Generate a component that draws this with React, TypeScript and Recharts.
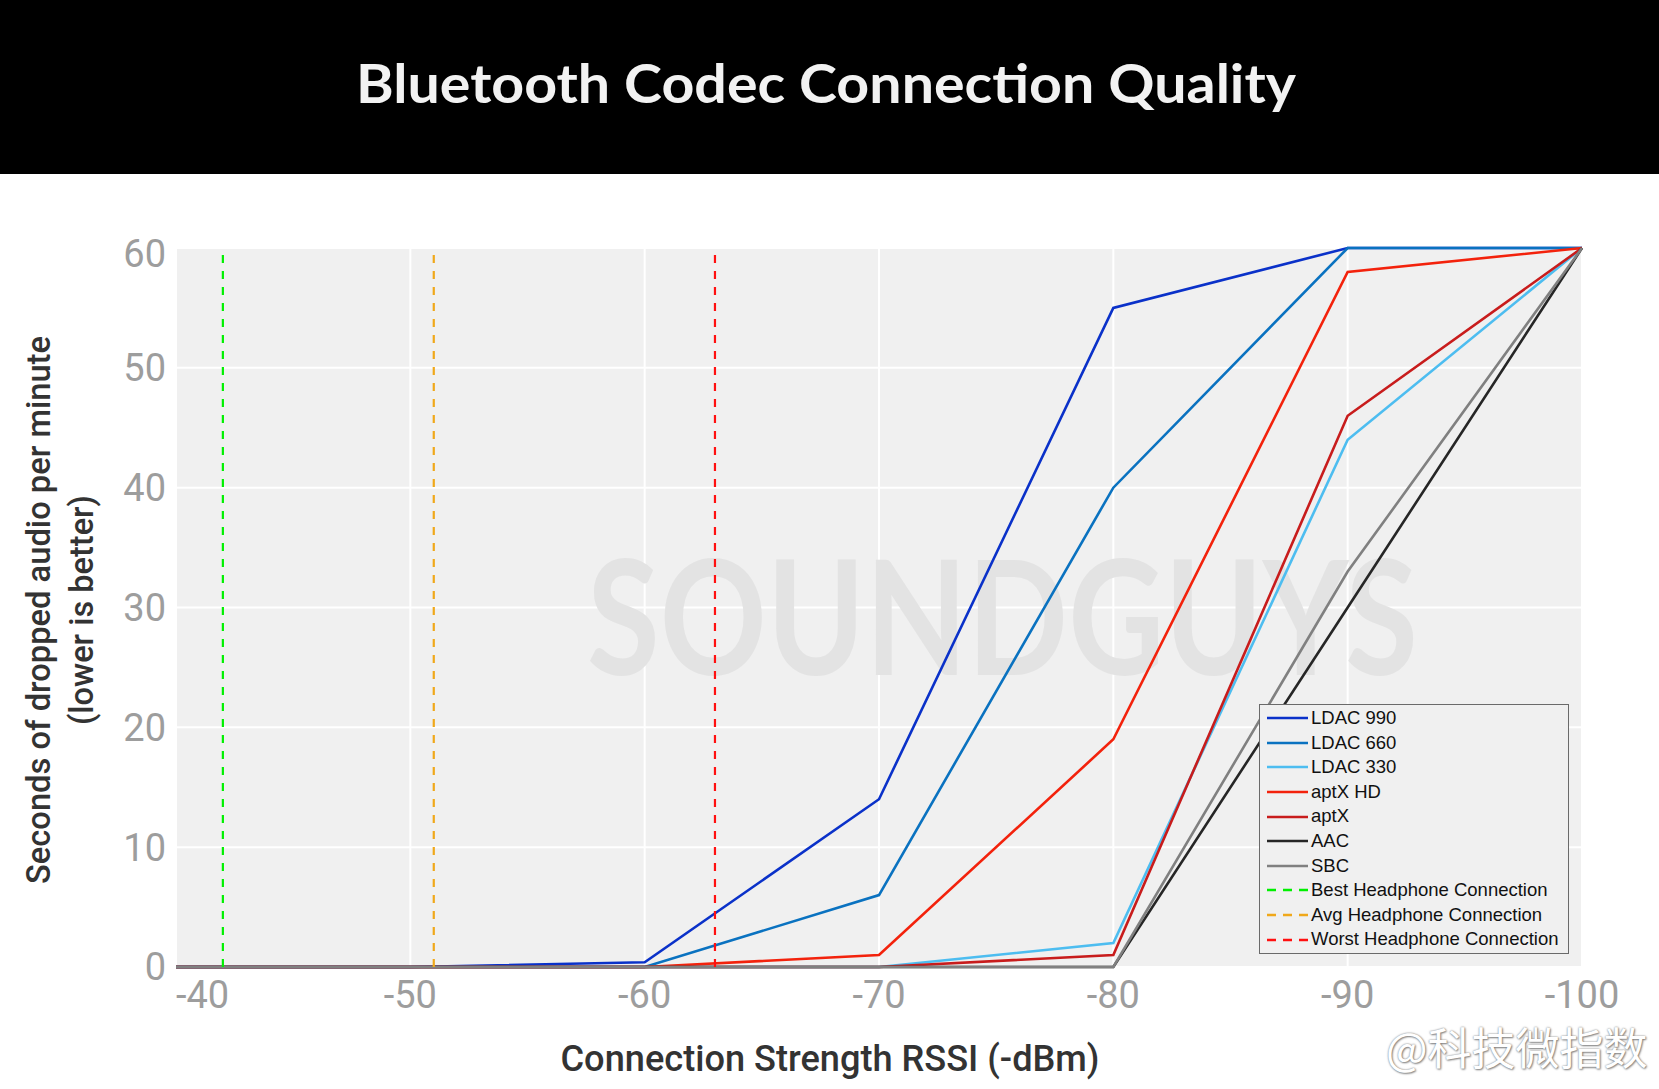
import { LineChart, Line, XAxis, YAxis, CartesianGrid, ReferenceLine, Legend, Label, Customized } from 'recharts';

// signal strength in dBm, left to right
const RSSI = [-40, -50, -60, -70, -80, -90, -100];

// seconds of dropped audio per minute at each RSSI step
const LDAC_990 = [0, 0, 0.4, 14, 55, 60, 60];
const LDAC_660 = [0, 0, 0, 6, 40, 60, 60];
const LDAC_330 = [0, 0, 0, 0, 2, 44, 60];
const APTX_HD = [0, 0, 0, 1, 19, 58, 60];
const APTX = [0, 0, 0, 0, 1, 46, 60];
const AAC = [0, 0, 0, 0, 0, 30, 60];
const SBC = [0, 0, 0, 0, 0, 33, 60];

const SERIES_NAMES = ['LDAC 990', 'LDAC 660', 'LDAC 330', 'aptX HD', 'aptX', 'AAC', 'SBC'];
const SERIES_VALUES = [LDAC_990, LDAC_660, LDAC_330, APTX_HD, APTX, AAC, SBC];

// headphone connection markers
const REF_NAMES = ['Best Headphone Connection', 'Avg Headphone Connection', 'Worst Headphone Connection'];
const REF_RSSI = [-42, -51, -63];

const X_TICKS = [-40, -50, -60, -70, -80, -90, -100];
const Y_TICKS = [0, 10, 20, 30, 40, 50, 60];

const SERIES_COLORS = ['#0a31c9', '#0a72c0', '#4dbdf0', '#f3220c', '#c81c1c', '#262626', '#808080'];
const REF_COLORS = ['#00f000', '#f0a81a', '#ff1010'];

const W = 1659;
const H = 1089;
const TICK_FONT = 'Roboto, "DejaVu Sans", sans-serif';
const TICK_COLOR = '#9d9d9d';

const rows = RSSI.map((rssi, i) => {
  const row: Record<string, number> = { rssi };
  SERIES_NAMES.forEach((name, s) => {
    row[name] = SERIES_VALUES[s][i];
  });
  return row;
});

function XTick(props: any) {
  const { x, y, payload } = props;
  const first = payload.value === X_TICKS[0];
  return (
    <text x={x} y={y} dy="0.71em" textAnchor={first ? 'start' : 'middle'} fill={TICK_COLOR} fontSize={38} fontFamily={TICK_FONT}>
      {payload.value}
    </text>
  );
}

function YTick(props: any) {
  const { x, y, payload } = props;
  // the top label sits a little under its gridline in the original
  const dy = payload.value === Y_TICKS[Y_TICKS.length - 1] ? '0.5em' : '0.355em';
  return (
    <text x={x} y={y} dy={dy} textAnchor="end" fill={TICK_COLOR} fontSize={38} fontFamily={TICK_FONT}>
      {payload.value}
    </text>
  );
}

function YTitle() {
  return (
    <g fill="#333" fontFamily={TICK_FONT} fontWeight={500} fontSize={34}>
      <text x={50} y={610} textAnchor="middle" transform="rotate(-90 50 610)" textLength={548} lengthAdjust="spacingAndGlyphs">
        Seconds of dropped audio per minute
      </text>
      <text x={93} y={610} textAnchor="middle" transform="rotate(-90 93 610)" textLength={230} lengthAdjust="spacingAndGlyphs">
        (lower is better)
      </text>
    </g>
  );
}

function XTitle() {
  return (
    <text x={830} y={1071} textAnchor="middle" fill="#333" fontFamily={TICK_FONT} fontWeight={500} fontSize={36} textLength={539} lengthAdjust="spacingAndGlyphs">
      Connection Strength RSSI (-dBm)
    </text>
  );
}

function Watermark() {
  return (
    <text x={587} y={675} fill="#e3e3e3" fontFamily="Lato, sans-serif" fontWeight={700} fontSize={160} textLength={831} lengthAdjust="spacingAndGlyphs">
      SOUNDGUYS
    </text>
  );
}

function LegendBox() {
  const rowH = 24.6;
  const items = [
    ...SERIES_NAMES.map((name, i) => ({ name, color: SERIES_COLORS[i], dash: undefined as string | undefined })),
    ...REF_NAMES.map((name, i) => ({ name, color: REF_COLORS[i], dash: '9 7' })),
  ];
  return (
    <div
      style={{
        width: 310,
        height: 250,
        boxSizing: 'border-box',
        border: '1.5px solid #6a6a6a',
        background: '#f0f0f0',
        padding: '1px 0 0 7px',
      }}
    >
      {items.map((it) => (
        <div key={it.name} style={{ display: 'flex', alignItems: 'center', height: rowH }}>
          <svg width={41} height={6} style={{ flexShrink: 0 }}>
            <line x1={0} y1={3} x2={41} y2={3} stroke={it.color} strokeWidth={2.5} strokeDasharray={it.dash} />
          </svg>
          <span
            style={{
              marginLeft: 3,
              fontFamily: '"Liberation Sans", Arial, sans-serif',
              fontSize: 18.5,
              color: '#111',
              whiteSpace: 'nowrap',
              lineHeight: 1,
            }}
          >
            {it.name}
          </span>
        </div>
      ))}
    </div>
  );
}

export default function App() {
  return (
    <div style={{ position: 'absolute', left: 0, top: 0, width: W, height: H, background: '#fff', overflow: 'hidden' }}>
      <div style={{ position: 'absolute', left: 0, top: 0, width: W, height: 174, background: '#000' }}>
        <svg width={W} height={174}>
          <text x={356} y={103} fill="#f2f2f2" fontFamily="Lato, sans-serif" fontWeight={700} fontSize={53} textLength={940} lengthAdjust="spacingAndGlyphs">
            Bluetooth Codec Connection Quality
          </text>
        </svg>
      </div>
      <div style={{ position: 'absolute', left: 0, top: 0 }}>
        <LineChart width={W} height={H} data={rows} margin={{ top: 248, right: 77, left: 26, bottom: 62 }}>
          <CartesianGrid fill="#f0f0f0" stroke="#ffffff" strokeWidth={2} />
          <Customized component={<Watermark />} />
          <XAxis
            dataKey="rssi"
            type="number"
            domain={[-100, -40]}
            reversed
            ticks={X_TICKS}
            tick={<XTick />}
            tickSize={0}
            tickMargin={14}
            axisLine={false}
            tickLine={false}
            height={60}
            interval={0}
          >
            <Label content={<XTitle />} />
          </XAxis>
          <YAxis
            type="number"
            domain={[0, 60]}
            ticks={Y_TICKS}
            tick={<YTick />}
            tickSize={0}
            tickMargin={10}
            axisLine={false}
            tickLine={false}
            width={150}
            interval={0}
          >
            <Label content={<YTitle />} />
          </YAxis>
          {SERIES_NAMES.map((name, i) => (
            <Line
              key={name}
              type="linear"
              dataKey={name}
              name={name}
              stroke={SERIES_COLORS[i]}
              strokeWidth={2.6}
              dot={false}
              activeDot={false}
              isAnimationActive={false}
            />
          ))}
          {REF_NAMES.map((name, i) => (
            <ReferenceLine key={name} x={REF_RSSI[i]} stroke={REF_COLORS[i]} strokeWidth={2.2} strokeDasharray="8 8" />
          ))}
          <Legend
            layout="vertical"
            align="center"
            verticalAlign="middle"
            content={<LegendBox />}
            wrapperStyle={{ left: 1259, top: 704, width: 310, height: 250 }}
          />
        </LineChart>
      </div>
      <div
        style={{
          position: 'absolute',
          left: 1386,
          top: 1024,
          fontFamily: '"Noto Sans CJK SC", sans-serif',
          fontSize: 44,
          lineHeight: 1,
          color: '#fff',
          textShadow: '0 0 2px #777, 1px 1px 2px #888',
          whiteSpace: 'nowrap',
        }}
      >
        @科技微指数
      </div>
    </div>
  );
}
